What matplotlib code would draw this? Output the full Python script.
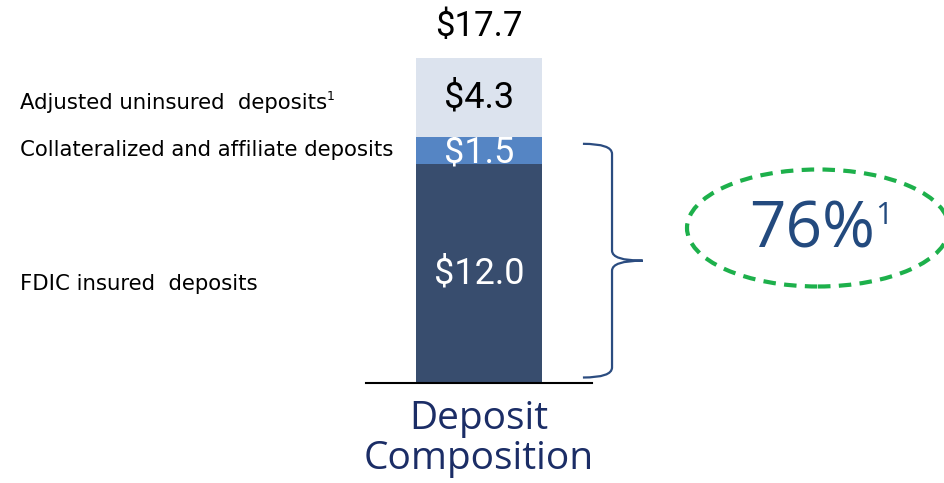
import matplotlib.pyplot as plt
from matplotlib.patches import Ellipse, PathPatch
from matplotlib.path import Path

# deposit composition, $ billions, bottom to top
segments = ['FDIC insured  deposits', 'Collateralized and affiliate deposits',
            'Adjusted uninsured  deposits']
values = [12.0, 1.5, 4.3]
value_labels = ['$12.0', '$1.5', '$4.3']
total_label = '$17.7'
category = 'Deposit\nComposition'
covered_pct = '76%'

colors = ['#384d6e', '#5585c4', '#dce3ee']
text_colors = ['white', 'white', 'black']

fig = plt.figure(figsize=(9.44, 4.83), dpi=100)
ax = fig.add_axes([366 / 944, 100 / 483, 226 / 944, 325 / 483])

bottom = 0
mids = []
for i, (val, col) in enumerate(zip(values, colors)):
  ax.bar(0, val, width=1.0, bottom=bottom, color=col, zorder=2 + i * 0.5)
  mids.append(bottom + val / 2)
  bottom += val
total = bottom

ax.set_xlim(-0.897, 0.897)
ax.set_ylim(0, total)
for side in ['left', 'right', 'top']:
  ax.spines[side].set_visible(False)
ax.spines['bottom'].set_linewidth(1.5)
ax.set_xticks([])
ax.set_yticks([])

# value labels in the bar ($1.5 sits partly under the top segment)
offsets = [0.0, -0.1, 0.0]
zords = [3.5, 2.6, 3.5]
for mid, lab, tc, off, z in zip(mids, value_labels, text_colors, offsets, zords):
  ax.text(0, mid + off, lab, ha='center', va='center', color=tc,
          fontsize=26, family='Roboto', zorder=z)
ax.text(0, total + 1.75, total_label, ha='center', va='center', color='black',
        fontsize=25, family='Roboto', clip_on=False)

# segment names at the left
name_y = [5.4, 12.75, 15.35]
name_txt = []
for name, y in zip(segments, name_y):
  t = fig.text(20 / 944, ax.transData.transform((0, y))[1] / 483, name,
               ha='left', va='center', fontsize=15.3, family='DejaVu Sans',
               color='black')
  name_txt.append(t)
# footnote marker on the uninsured label
ax.annotate('1', xy=(1.0, 0.8), xycoords=name_txt[2], ha='left', va='center',
            fontsize=9, family='DejaVu Sans', color='black')

# category label under the axis
fig.text(479 / 944, 44 / 483, category, ha='center', va='center',
         fontsize=28, family='Open Sans', color='#1b2d66', linespacing=1.1)

# brace around the insured + collateralized part
top = values[0] + values[1] - 0.4
low = 0.3
tip = (top + low) / 2
x0, x1, x2 = 0.825, 1.056, 1.30
r = 0.55
verts = [(x0, top), (x1, top), (x1, top - r), (x1, tip + r),
         (x1, tip), (x2, tip),
         (x2, tip), (x1, tip), (x1, tip - r), (x1, low + r),
         (x1, low), (x0, low)]
codes = [Path.MOVETO, Path.CURVE3, Path.CURVE3, Path.LINETO,
         Path.CURVE3, Path.CURVE3,
         Path.MOVETO, Path.CURVE3, Path.CURVE3, Path.LINETO,
         Path.CURVE3, Path.CURVE3]
brace = PathPatch(Path(verts, codes), fill=False, edgecolor='#2b4c80',
                  linewidth=1.6, clip_on=False)
ax.add_patch(brace)

# dashed ellipse with the percentage
ell = Ellipse((818 / 944, (483 - 228) / 483), 262 / 944, 117 / 483,
              transform=fig.transFigure, fill=False, edgecolor='#1db04b',
              linewidth=3, linestyle=(0, (3, 2)))
fig.add_artist(ell)
pct = fig.text(812 / 944, (483 - 230) / 483, covered_pct, ha='center', va='center',
               fontsize=46, family='Open Sans', color='#234a7e')
ax.annotate('1', xy=(1.0, 0.72), xycoords=pct, ha='left', va='center',
            fontsize=22, family='Open Sans', color='#234a7e')

plt.savefig('out.png', dpi=100)
plt.close()
